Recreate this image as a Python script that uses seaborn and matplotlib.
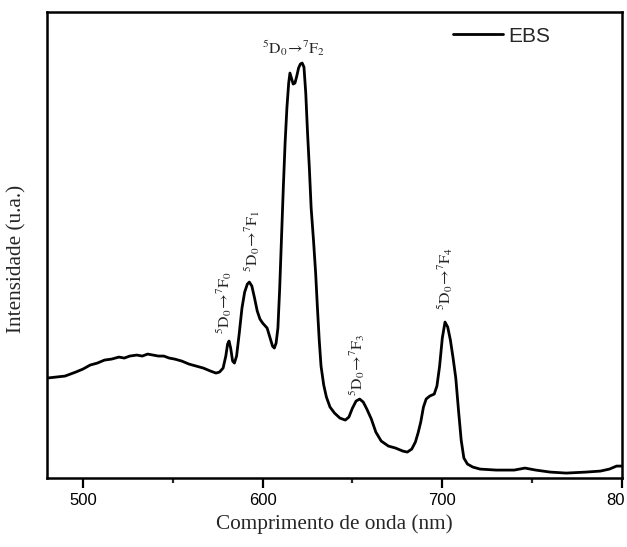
import matplotlib
matplotlib.use('Agg')
import matplotlib.pyplot as plt
from matplotlib.ticker import MultipleLocator, NullLocator
from matplotlib.transforms import ScaledTranslation
import seaborn as sns

# espectro de emissao EBS (u.a.)
comprimento = [480, 485, 490, 493, 496, 500, 504, 508, 512, 516, 520, 523, 526, 530, 533,
               536, 539, 542, 545, 548, 551, 555, 559, 563, 567, 571, 574, 576, 578, 579.5,
               580.5, 581.3, 582.2, 583.3, 584.3, 585.5, 587, 588.5, 590, 591.5, 592.6, 594,
               595.5, 597, 598.5, 600, 601.5, 602.5, 604, 605.5, 606.5, 607.5, 608.5, 609.5,
               610.5, 611.5, 612.5, 613.5, 614.5, 615.2, 616, 617, 618, 619, 620, 621, 622,
               623, 624, 625, 626, 627, 628.3, 629.5, 630.5, 631.5, 632.5, 634, 635.5, 637.5,
               640, 643, 646, 648, 650, 652, 654, 656, 658, 660.5, 663, 666, 670, 674, 678,
               680.5, 683, 685, 686.5, 688, 689.5, 691, 693, 695.5, 697, 698.5, 700, 701.5,
               703, 704.5, 706, 707.5, 709, 710.5, 712, 714, 717, 721, 730, 740, 746, 752,
               760, 769, 780, 788, 793, 797, 800]
intensidade = [100, 101, 102, 104, 106, 109, 113, 115, 118, 119, 121, 120, 122, 123, 122,
               124, 123, 122, 122, 120, 119, 117, 114, 112, 110, 107, 105, 106, 110, 122,
               134, 137, 130, 117, 115, 122, 145, 170, 186, 194, 196, 192,
               180, 167, 159, 155, 152, 150, 141, 132, 130, 135, 150, 190,
               240, 290, 335, 370, 395, 405, 400, 394, 395, 402, 410, 414, 415,
               411, 385, 345, 310, 270, 238, 205, 170, 138, 112, 93, 81, 71,
               65, 60, 58, 61, 70, 77, 79, 76, 69, 59, 46, 37, 32, 30, 27,
               26, 29, 36, 45, 56, 71, 79, 82, 84, 92, 112, 140, 156,
               151, 138, 120, 100, 68, 38, 20, 14, 11, 9, 8, 8, 10, 8,
               6, 5, 6, 7, 9, 12, 12]

# transicoes do Eu3+ : (rotulo, x, y, rotacao)
transicoes = [(r'$^5D_0\!\rightarrow\!^7F_0$', 578.5, 176, 90),
              (r'$^5D_0\!\rightarrow\!^7F_1$', 594.3, 237, 90),
              (r'$^5D_0\!\rightarrow\!^7F_2$', 617.5, 430, 0),
              (r'$^5D_0\!\rightarrow\!^7F_3$', 652.8, 113, 90),
              (r'$^5D_0\!\rightarrow\!^7F_4$', 701.8, 200, 90)]

sns.set_style('ticks')
plt.rcParams['mathtext.fontset'] = 'stix'
plt.rcParams['mathtext.default'] = 'rm'

fig = plt.figure(figsize=(6.27, 5.47), dpi=100)
ax = fig.add_axes([0.075, 0.126, 0.917, 0.852])

sns.lineplot(x=comprimento, y=intensidade, color='black', linewidth=2.0,
             label='EBS', ax=ax)

ax.set_xlim(480, 800)
ax.set_ylim(0, 466)
ax.xaxis.set_major_locator(MultipleLocator(100))
ax.xaxis.set_minor_locator(MultipleLocator(50))
ax.yaxis.set_major_locator(NullLocator())
ax.tick_params(axis='x', which='major', direction='out', length=7, width=1.6,
               labelsize=12, pad=4, colors='black')
ax.tick_params(axis='x', which='minor', direction='out', length=3.5, width=1.6)
ax.set_xticks([500, 600, 700, 800], ['500', '600', '700', '80'],
              fontfamily='Liberation Sans')
# o ultimo rotulo aparece cortado na figura original
ultimo = ax.get_xticklabels()[-1]
ultimo.set_transform(ultimo.get_transform() + ScaledTranslation(-6 / 100, 0, fig.dpi_scale_trans))
for s in ax.spines.values():
    s.set_linewidth(1.8)
    s.set_color('black')

ax.set_xlabel('Comprimento de onda (nm)', fontfamily='Liberation Serif',
              fontsize=15.3, labelpad=4)
ax.set_ylabel('Intensidade (u.a.)', fontfamily='Liberation Serif', fontsize=15.3)
ax.yaxis.set_label_coords(-0.036, 0.47)

for rotulo, x, y, rot in transicoes:
    ax.text(x, y, rotulo, rotation=rot, ha='center', va='center', fontsize=11.5)

ax.legend(loc='center left', bbox_to_anchor=(0.706, 0.948), frameon=False,
          prop={'family': 'Liberation Sans', 'size': 15}, handlelength=2.4,
          handletextpad=0.25, borderpad=0, borderaxespad=0)

fig.savefig('out.png', dpi=100)
